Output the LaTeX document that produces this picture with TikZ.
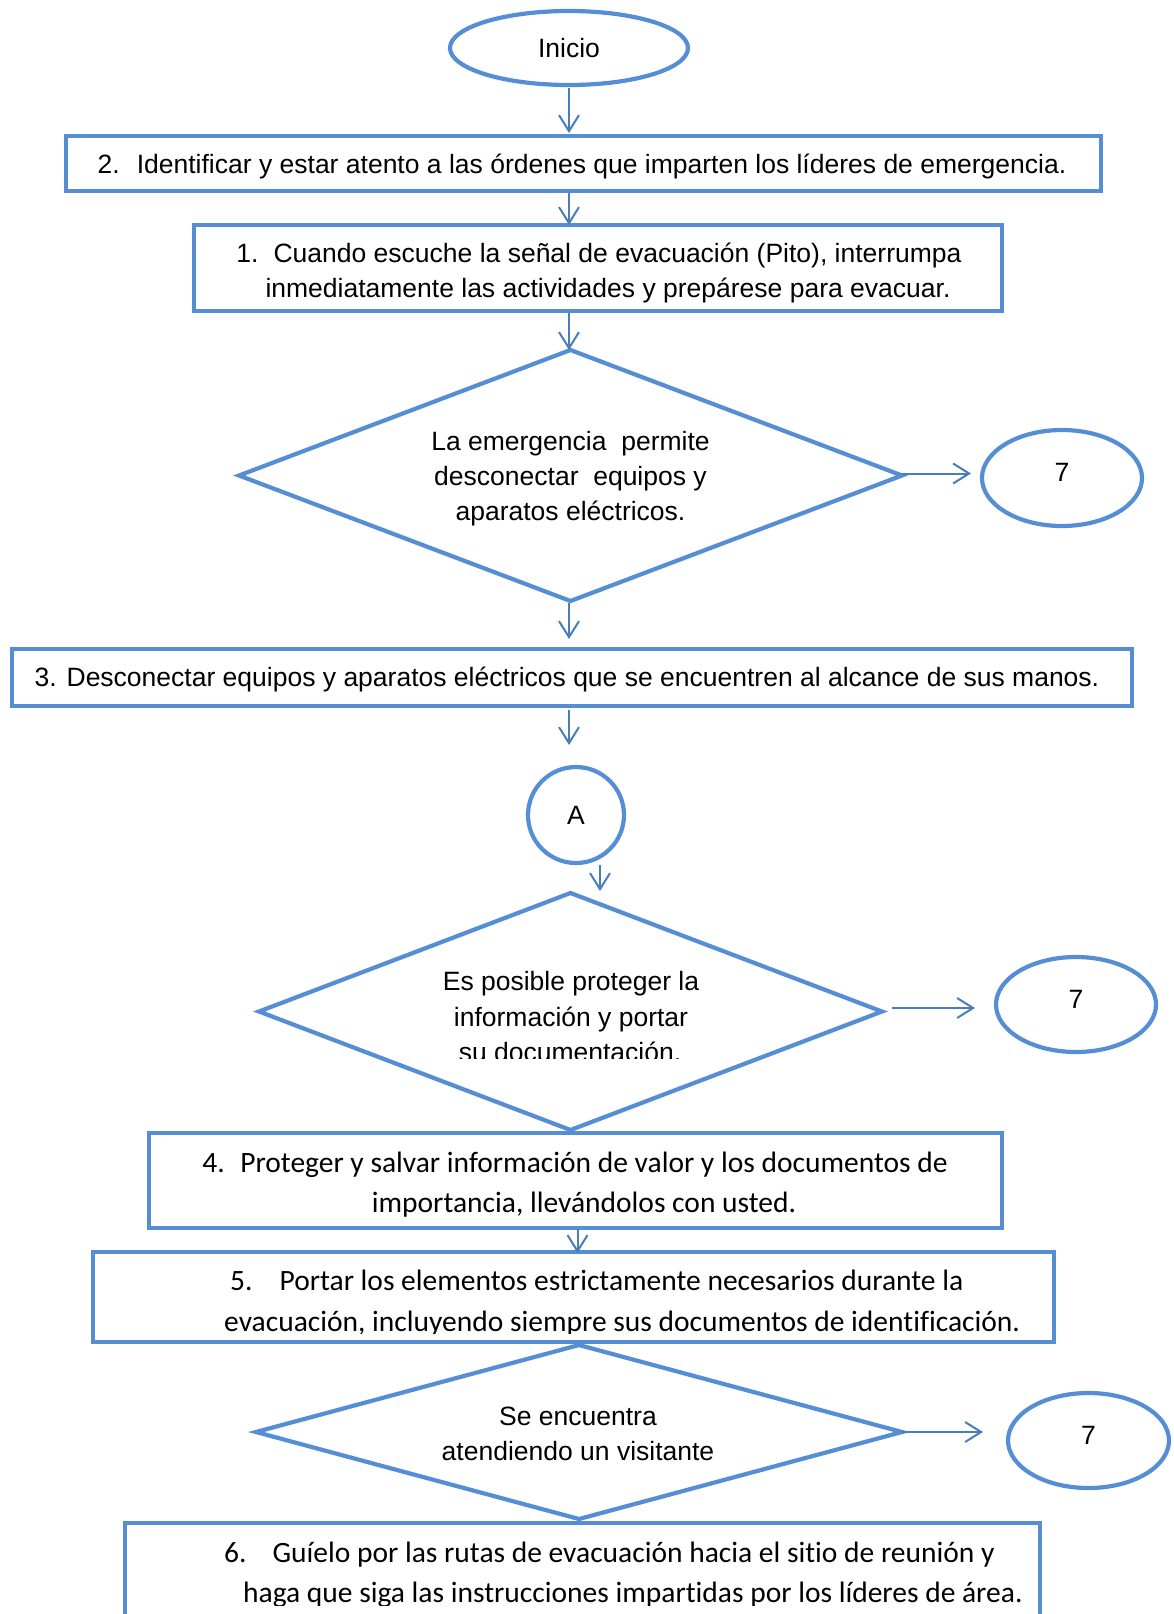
\documentclass[tikz,border=0pt]{standalone}
\usepackage{fontspec}
\setmainfont[Ligatures={TeX,NoCommon}]{Liberation Sans}
\newfontfamily\califont[Ligatures={TeX,NoCommon,NoContextual},Contextuals=NoAlternate]{Carlito}
\usetikzlibrary{shapes.geometric,arrows.meta,calc}
\definecolor{shapeblue}{RGB}{85,142,213}
\definecolor{arrowblue}{RGB}{74,126,187}
\begin{document}
\begin{tikzpicture}[x=1pt,y=-1pt,
  shapeline/.style={draw=shapeblue, line width=4.2pt, inner sep=0pt, outer sep=0pt},
  box/.style={shapeline, rectangle},
  oval/.style={shapeline, ellipse},
  decision/.style={shapeline, diamond},
  arr/.style={draw=arrowblue, line width=2pt, -{Straight Barb[length=16pt,width=20pt]}},
  atext/.style={font=\fontsize{26.5}{35}\selectfont, inner sep=0pt, anchor=base},
  ctext/.style={font=\califont\fontsize{29.5}{40}\selectfont, inner sep=0pt, anchor=base},
  ctextw/.style={ctext, anchor=base west},
  sevenbox/.style={oval, minimum width=160, minimum height=96, font=\fontsize{26.5}{35}\selectfont, text depth=11pt},
]
\useasboundingbox (0,0) rectangle (1174,1614);

% shapes
\node[oval, minimum width=238, minimum height=74, font=\fontsize{26.5}{35}\selectfont] (inicio) at (569,48) {Inicio};
\node[box, minimum width=1035, minimum height=55] (b2) at (583.5,163.5) {};
\node[box, minimum width=808, minimum height=86] (b1) at (598,268) {};
\node[decision, minimum width=663, minimum height=251] (d1) at (570.5,475.5) {};
\node[sevenbox] (a7) at (1062,478) {7};
\node[box, minimum width=1120, minimum height=57] (b3) at (572,677.5) {};
\node[shapeline, circle, minimum size=96, font=\fontsize{26.5}{35}\selectfont] (A) at (576,815) {A};
\node[decision, minimum width=623, minimum height=237] (d2) at (570.5,1011.5) {};
\node[sevenbox, minimum height=95] (b7) at (1076,1004.5) {7};
\node[box, minimum width=853, minimum height=95] (b4) at (575.5,1180.5) {};
\node[box, minimum width=961, minimum height=90] (b5) at (573.5,1297) {};
\node[decision, minimum width=646, minimum height=174] (d3) at (579,1432) {};
\node[sevenbox, minimum width=161, minimum height=95] (c7) at (1088.5,1440.5) {7};
\node[box, minimum width=915, minimum height=200] (b6) at (582.5,1623) {};

% texts
\node[atext] (t2) at (582,173.5) {2.\hspace{17pt}Identificar y estar atento a las órdenes que imparten los líderes de emergencia.};
\node[atext] (t1a) at (599,262.5) {1.\hspace{15pt}Cuando escuche la señal de evacuación (Pito), interrumpa};
\node[atext] (t1b) at (608,297.5) {inmediatamente las actividades y prepárese para evacuar.};
\node[atext] (td1a) at (570.5,450.5) {La emergencia\ \ permite};
\node[atext] (td1b) at (570.5,485.5) {desconectar\ \ equipos y};
\node[atext] (td1c) at (570.5,520.5) {aparatos eléctricos.};
\node[atext] (t3) at (567,686.5) {3. Desconectar equipos y aparatos eléctricos que se encuentren al alcance de sus manos.};
\begin{scope}
  \clip (0,0) rectangle (1174,1058);
  \node[atext] (td2a) at (571,990.5) {Es posible proteger la};
  \node[atext] (td2b) at (571,1026.5) {información y portar};
  \node[atext] (td2c) at (570,1061.5) {su documentación.};
\end{scope}
\node[ctext] (t4a) at (575,1172.5) {4.\hspace{15.5pt}Proteger y salvar información de valor y los documentos de};
\node[ctext] (t4b) at (584,1212.5) {importancia, llevándolos con usted.};
\begin{scope}
  \clip (0,0) rectangle (1174,1333);
  \node[ctextw] (t5a) at (230,1290.5) {5.\hspace{27pt}Portar los elementos estrictamente necesarios durante la};
  \node[ctextw] (t5b) at (224,1331.5) {evacuación, incluyendo siempre sus documentos de identificación.};
\end{scope}
\node[atext] (td3a) at (578,1425.5) {Se encuentra};
\node[atext] (td3b) at (578,1460.5) {atendiendo un visitante};
\begin{scope}
  \clip (0,0) rectangle (1174,1605);
  \node[ctextw] (t6a) at (224,1562.5) {6.\hspace{26pt}Guíelo por las rutas de evacuación hacia el sitio de reunión y};
  \node[ctextw] (t6b) at (243,1602.5) {haga que siga las instrucciones impartidas por los líderes de área.};
\end{scope}

% connectors
\draw[arr] ($(inicio.south)+(0,3)$) -- ($(inicio.south |- b2.north)+(0,-3)$);
\draw[arr] ($(b2.south -| inicio.south)+(0,2)$) -- (b1.north -| inicio.south);
\draw[arr] ($(b1.south -| inicio.south)+(0,2)$) -- (d1.north -| inicio.south);
\draw[arr] ($(d1.south -| inicio.south)+(0,2)$) -- ($(b3.north -| inicio.south)+(0,-10)$);
\draw[arr] ($(b3.south -| inicio.south)+(0,4)$) -- ($(A.north -| inicio.south)+(0,-22)$);
\draw[arr] ($(A.south)+(24,2)$) -- ($(A.south |- d2.north)+(24,-2)$);
\draw[arr] ($(d1.east)+(0,-2)$) -- ($(a7.west |- d1.east)+(-11,-2)$);
\draw[arr] ($(d2.east)+(10,-3.5)$) -- ($(b7.west |- d2.east)+(-21,-3.5)$);
\draw[arr] ($(b4.south)+(2,1)$) -- ($(b4.south |- b5.north)+(2,1)$);
\draw[arr] (d3.east) -- ($(c7.west |- d3.east)+(-25,0)$);
\end{tikzpicture}
\end{document}
